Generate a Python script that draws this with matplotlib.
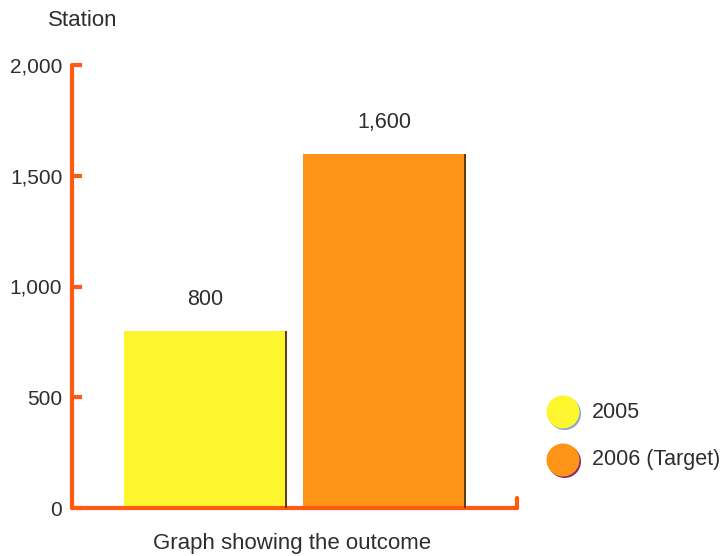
import matplotlib
matplotlib.use("Agg")
import matplotlib.pyplot as plt
from matplotlib.patches import Ellipse

# data
categories = ["2005", "2006 (Target)"]
values = [800, 1600]
value_labels = ["800", "1,600"]
yticks = [0, 500, 1000, 1500, 2000]
ytick_labels = ["0", "500", "1,000", "1,500", "2,000"]

bar_colors = ["#FDF52E", "#FD9418"]
shadow_colors = ["#7FA6D8", "#8A2A6A"]
axis_color = "#FF5A10"
text_color = "#2E2E2E"

plt.rcParams['font.family'] = ['Liberation Sans', 'DejaVu Sans']

W, H = 724, 556
fig = plt.figure(figsize=(W / 100, H / 100), dpi=100)
ax = fig.add_axes([72 / W, (H - 508) / H, (517 - 72) / W, (508 - 65) / H])

x = list(range(len(values)))
width = 0.9
ax.bar(x, values, width=width, color=bar_colors, edgecolor='none', zorder=2)
# thin dark edge on right side of each bar
ax.vlines([xi + width / 2 for xi in x], 0, values, color="#5A3A12", lw=1.4, zorder=3)

for xi, v, lab in zip(x, values, value_labels):
    ax.annotate(lab, (xi, v), xytext=(0, 15), textcoords='offset points',
                ha='center', va='bottom', fontsize=15.5, color=text_color)

ax.set_xlim(-0.743, 1.743)
ax.set_ylim(0, 2000)
ax.set_xticks([])
ax.set_yticks(yticks)
ax.set_yticklabels(ytick_labels)
ax.tick_params(axis='y', direction='in', length=7, width=3, color=axis_color,
               labelsize=15, labelcolor=text_color, pad=7)

for s in ['top', 'right']:
    ax.spines[s].set_visible(False)
for s in ['left', 'bottom']:
    ax.spines[s].set_color(axis_color)
    ax.spines[s].set_linewidth(3)
    ax.spines[s].set_capstyle('round')

# small upturned end on the x axis
ax.plot([1, 1], [0, 0.022], transform=ax.transAxes, color=axis_color, lw=3,
        solid_capstyle='round', clip_on=False)

fig.text(48 / W, 1 - 20 / H, "Station", fontsize=16, color=text_color, va='center')
fig.text(292 / W, 1 - 543 / H, "Graph showing the outcome", fontsize=16,
         color=text_color, ha='center', va='center')

# legend with round swatches
leg_y = [412, 460]
for cy, lab, c, sc in zip(leg_y, categories, bar_colors, shadow_colors):
    fig.add_artist(Ellipse(((563 + 1.5) / W, 1 - (cy + 1.5) / H), 33 / W, 33 / H,
                           transform=fig.transFigure, color=sc, lw=0))
    fig.add_artist(Ellipse((563 / W, 1 - cy / H), 33 / W, 33 / H,
                           transform=fig.transFigure, color=c, lw=0))
    fig.text(592 / W, 1 - cy / H, lab, fontsize=15.5, color=text_color, va='center')

plt.savefig("out.png", dpi=100)
